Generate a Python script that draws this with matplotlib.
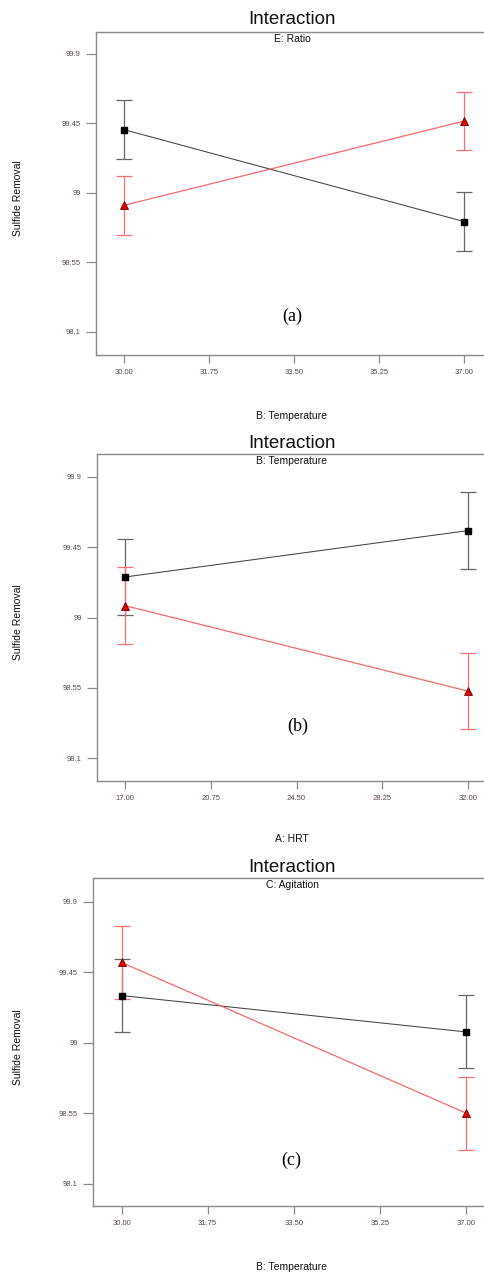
import matplotlib
matplotlib.use("Agg")
import matplotlib.pyplot as plt

W, H = 485, 1273

YTICKS = [98.1, 98.55, 99.0, 99.45, 99.9]
YTICK_LABELS = ["98.1", "98.55", "99", "99.45", "99.9"]

# (a) E: Ratio vs B: Temperature
A_X = [30.0, 37.0]
A_XTICKS = [30.00, 31.75, 33.50, 35.25, 37.00]
A_BLACK = [99.41, 98.815]
A_RED = [98.92, 99.465]
A_ERR = [0.19, 0.19]

# (b) B: Temperature vs A: HRT
B_X = [17.0, 32.0]
B_XTICKS = [17.00, 20.75, 24.50, 28.25, 32.00]
B_BLACK = [99.26, 99.557]
B_RED = [99.077, 98.53]
B_ERR = [0.245, 0.245]

# (c) C: Agitation vs B: Temperature
C_X = [30.0, 37.0]
C_XTICKS = [30.00, 31.75, 33.50, 35.25, 37.00]
C_BLACK = [99.30, 99.068]
C_RED = [99.511, 98.55]
C_ERR = [0.233, 0.233]

SANS = ["Liberation Sans", "DejaVu Sans"]
SERIF = ["Liberation Serif", "DejaVu Serif"]
TICK_COLOR = "#5a4848"
SPINE_COLOR = "#8a8a8a"


def fx(px):
    return px / W


def fy(py):
    return 1 - py / H


def panel(fig, box, xlim, ylim, x, xticks, black, red, err,
          subtitle, xlabel, tag, title_y, xlabel_y, tag_xy):
    left, top, bottom = box
    ax = fig.add_axes([fx(left), fy(bottom), fx(495 - left), (bottom - top) / H])
    ax.set_xlim(*xlim)
    ax.set_ylim(*ylim)

    ax.errorbar(x, black, yerr=err, fmt="none", ecolor="#666666",
                elinewidth=0.9, capsize=6, capthick=0.9, zorder=2)
    ax.errorbar(x, red, yerr=err, fmt="none", ecolor="#ff7070",
                elinewidth=0.9, capsize=6, capthick=0.9, zorder=2)
    ax.plot(x, black, color="#444444", linewidth=0.75, zorder=3)
    ax.plot(x, red, color="#ff6060", linewidth=0.85, zorder=3)
    ax.plot(x, black, "s", color="black", markersize=5, zorder=4)
    ax.plot(x, red, "^", markerfacecolor="#e00000", markeredgecolor="#700000",
            markeredgewidth=0.6, markersize=6, linestyle="none", zorder=4)

    ax.set_yticks(YTICKS)
    ax.set_yticklabels(YTICK_LABELS)
    ax.set_xticks(xticks)
    ax.set_xticklabels([f"{t:.2f}" for t in xticks])
    ax.tick_params(axis="y", direction="out", length=7, width=0.9, pad=4,
                   colors=SPINE_COLOR, labelcolor=TICK_COLOR, labelsize=5.5)
    ax.tick_params(axis="x", direction="out", length=6, width=0.9, pad=4,
                   colors=SPINE_COLOR, labelcolor=TICK_COLOR, labelsize=5.5)
    for lab in ax.get_xticklabels() + ax.get_yticklabels():
        lab.set_family(SANS)
    for side in ["left", "bottom", "top"]:
        ax.spines[side].set_color(SPINE_COLOR)
        ax.spines[side].set_linewidth(1.0)
    ax.spines["right"].set_visible(False)

    fig.text(fx(292), fy(title_y), "Interaction", ha="center", va="center",
             fontsize=13.5, family=SANS, color="#111111")
    fig.text(fx(292), fy(top + 7.5), subtitle, ha="center", va="center",
             fontsize=7.5, family=SANS, color="#111111")
    fig.text(fx(292), fy(xlabel_y), xlabel, ha="center", va="center",
             fontsize=7.5, family=SANS, color="#111111")
    fig.text(fx(18), fy((top + bottom) / 2 + 5), "Sulfide Removal", rotation=90,
             ha="center", va="center", fontsize=7.5, family=SANS, color="#111111")
    fig.text(fx(tag_xy[0]), fy(tag_xy[1]), tag, ha="center", va="center",
             fontsize=13, family=SERIF, color="black")
    return ax


def main() -> None:
    fig = plt.figure(figsize=(W / 100, H / 100), dpi=100)

    panel(fig, (96, 32, 355), (29.424, 37.64), (97.951, 100.042),
          A_X, A_XTICKS, A_BLACK, A_RED, A_ERR,
          "E: Ratio", "B: Temperature", "(a)", 20, 416, (292, 316))
    panel(fig, (97, 454, 781), (15.775, 33.18), (97.955, 100.047),
          B_X, B_XTICKS, B_BLACK, B_RED, B_ERR,
          "B: Temperature", "A: HRT", "(b)", 443, 839, (298, 726))
    panel(fig, (93, 878, 1206), (29.419, 37.59), (97.957, 100.05),
          C_X, C_XTICKS, C_BLACK, C_RED, C_ERR,
          "C: Agitation", "B: Temperature", "(c)", 867, 1267, (291, 1160))

    fig.savefig("out.png", dpi=100)


if __name__ == "__main__":
    main()
